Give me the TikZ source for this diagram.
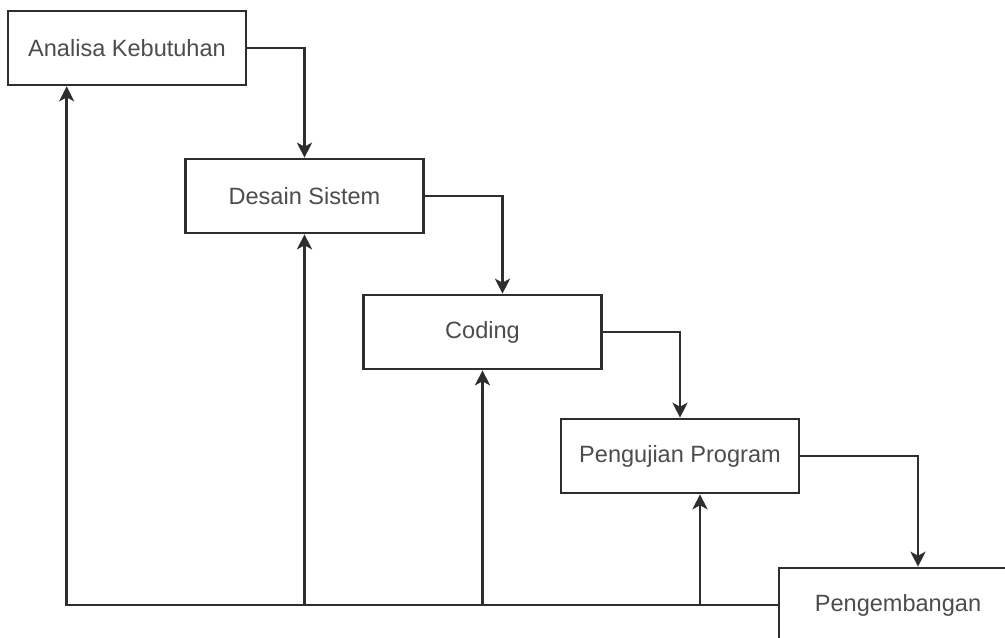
\documentclass[tikz,border=0pt]{standalone}
\usepackage{fontspec}
\setmainfont{Liberation Sans}
\usepackage{tikz}
\usetikzlibrary{arrows.meta, positioning}

\begin{document}
\begin{tikzpicture}[x=0.02cm,y=-0.02cm,->,>={Stealth[length=3mm,width=3mm,inset=0.8mm]},
    line width=1.5pt, draw=black!82,
    tahap/.style={draw=black!82, rectangle, minimum width=4.76cm, minimum height=1.48cm,
      inner sep=0pt, text=black!70, font=\fontsize{13.4}{16}\selectfont}]
  \clip (0,0) rectangle (1005,637);
  \node[tahap] (analisa) at (127,48)    {Analisa Kebutuhan};
  \node[tahap] (desain)  at (304.5,196) {Desain Sistem};
  \node[tahap] (coding)  at (482.5,332) {Coding};
  \node[tahap] (uji)     at (680,456)   {Pengujian Program};
  \node[tahap] (kembang) at (898,605)   {Pengembangan};
  \coordinate (bawah) at ([xshift=1.2cm]analisa.south west |- kembang.west);

  % alur maju
  \draw (analisa.east) -| (desain.north);
  \draw (desain.east)  -| ([xshift=0.4cm]coding.north);
  \draw (coding.east)  -| (uji.north);
  \draw (uji.east)     -| ([xshift=0.4cm]kembang.north);

  % umpan balik
  \draw (kembang.west) -- (bawah) -- ([xshift=1.2cm]analisa.south west);
  \draw (desain.south |- bawah) -- (desain.south);
  \draw (coding.south |- bawah) -- (coding.south);
  \draw ([xshift=0.4cm]uji.south |- bawah) -- ([xshift=0.4cm]uji.south);
\end{tikzpicture}
\end{document}
